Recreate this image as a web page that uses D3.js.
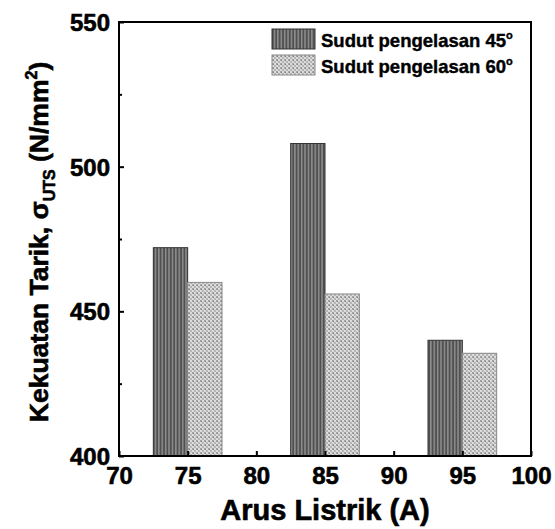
<!DOCTYPE html>
<html>
<head>
<meta charset="utf-8">
<script src="https://cdn.jsdelivr.net/npm/d3@7"></script>
<style>
  body { margin: 0; background: #fff; }
  svg text { font-family: "Liberation Sans", Arial, sans-serif; font-weight: bold; fill: #000; stroke: #000; stroke-width: 0.6px; }
</style>
</head>
<body>
<svg id="chart"></svg>
<script>
var width = 555, height = 529;

// data
var currents = [75, 85, 95];
var angle45 = [472, 508, 440];
var angle60 = [460, 456, 435.5];
var seriesNames = ["Sudut pengelasan 45", "Sudut pengelasan 60"];
var xTicks = [70, 75, 80, 85, 90, 95, 100];
var yTicks = [400, 450, 500, 550];
var yMinor = [425, 475, 525];
var barW = 2.5; // in amperes

var margin = {top: 22, right: 24, bottom: 73, left: 119};

var svg = d3.select("#chart")
    .attr("width", width)
    .attr("height", height);

var defs = svg.append("defs");

// vertical stripes for the 45 degree bars
var p1 = defs.append("pattern")
    .attr("id", "stripes")
    .attr("patternUnits", "userSpaceOnUse")
    .attr("width", 3.4).attr("height", 10);
p1.append("rect").attr("width", 3.4).attr("height", 10).attr("fill", "#505050");
p1.append("rect").attr("x", 1.7).attr("width", 1.5).attr("height", 10).attr("fill", "#8e8e8e");

// fine checker for the 60 degree bars
var p2 = defs.append("pattern")
    .attr("id", "checker")
    .attr("patternUnits", "userSpaceOnUse")
    .attr("width", 4).attr("height", 4);
p2.append("rect").attr("width", 4).attr("height", 4).attr("fill", "#dcdcdc");
p2.append("rect").attr("x", 0).attr("y", 0).attr("width", 2).attr("height", 2).attr("fill", "#a4a4a4");
p2.append("rect").attr("x", 2).attr("y", 2).attr("width", 2).attr("height", 2).attr("fill", "#b4b4b4");
p2.append("rect").attr("x", 1).attr("y", 1).attr("width", 1).attr("height", 1).attr("fill", "#808080");

var x = d3.scaleLinear()
    .domain([70, 100])
    .range([margin.left, width - margin.right]);

var y = d3.scaleLinear()
    .domain([400, 550])
    .range([height - margin.bottom, margin.top]);

// bars
svg.selectAll(".b45")
    .data(currents)
    .enter().append("rect")
    .attr("x", function (d) { return x(d - barW); })
    .attr("y", function (d, i) { return y(angle45[i]); })
    .attr("width", function (d) { return x(d) - x(d - barW); })
    .attr("height", function (d, i) { return y(400) - y(angle45[i]); })
    .attr("fill", "url(#stripes)")
    .attr("stroke", "#333")
    .attr("stroke-width", 1);

svg.selectAll(".b60")
    .data(currents)
    .enter().append("rect")
    .attr("x", function (d) { return x(d); })
    .attr("y", function (d, i) { return y(angle60[i]); })
    .attr("width", function (d) { return x(d + barW) - x(d); })
    .attr("height", function (d, i) { return y(400) - y(angle60[i]); })
    .attr("fill", "url(#checker)")
    .attr("stroke", "#888")
    .attr("stroke-width", 1);

// axes, ticks pointing inward
var xAxis = svg.append("g")
    .attr("transform", "translate(0," + y(400) + ")")
    .call(d3.axisBottom(x).tickValues(xTicks).tickSize(-5).tickPadding(10));

var yAxis = svg.append("g")
    .attr("transform", "translate(" + x(70) + ",0)")
    .call(d3.axisLeft(y).tickValues(yTicks).tickSize(-5).tickPadding(9));

svg.append("g")
    .attr("transform", "translate(" + x(70) + ",0)")
    .call(d3.axisLeft(y).tickValues(yMinor).tickSize(-3).tickFormat(""))
    .select(".domain").remove();

[xAxis, yAxis].forEach(function (a) {
    a.select(".domain").remove();
    a.selectAll(".tick text").style("font-size", "24px");
});
svg.selectAll(".tick line").attr("stroke", "#000").attr("stroke-width", 2);
xAxis.selectAll(".tick text").attr("dy", "0.75em");
yAxis.selectAll(".tick text").attr("dy", "0.36em");

// frame
svg.append("rect")
    .attr("x", x(70)).attr("y", y(550))
    .attr("width", x(100) - x(70))
    .attr("height", y(400) - y(550))
    .attr("fill", "none")
    .attr("stroke", "#000")
    .attr("stroke-width", 2);

// axis titles
svg.append("text")
    .attr("x", (x(70) + x(100)) / 2)
    .attr("y", 520)
    .attr("text-anchor", "middle")
    .style("font-size", "29px")
    .text("Arus Listrik (A)");

var yt = svg.append("text")
    .attr("transform", "translate(48,242) rotate(-90)")
    .attr("text-anchor", "middle")
    .style("font-size", "26.5px");
yt.append("tspan").text("Kekuatan Tarik, \u03c3");
yt.append("tspan").attr("dy", 7).style("font-size", "16px").text("UTS");
yt.append("tspan").attr("dy", -7).text(" (N/mm");
yt.append("tspan").attr("dy", -11).style("font-size", "16px").text("2");
yt.append("tspan").attr("dy", 11).text(")");

// legend
var fills = ["url(#stripes)", "url(#checker)"];
var strokes = ["#333", "#888"];
var legend = svg.selectAll(".leg")
    .data(seriesNames)
    .enter().append("g")
    .attr("transform", function (d, i) { return "translate(272," + (29 + i * 26) + ")"; });

legend.append("rect")
    .attr("width", 43).attr("height", 20)
    .attr("fill", function (d, i) { return fills[i]; })
    .attr("stroke", function (d, i) { return strokes[i]; })
    .attr("stroke-width", 1);

var lt = legend.append("text")
    .attr("x", 49).attr("y", 18)
    .style("font-size", "18.5px")
    .style("stroke-width", "0.4px");
lt.append("tspan").text(function (d) { return d; });
lt.append("tspan").attr("dy", -8).style("font-size", "11px").text("o");
</script>
</body>
</html>
